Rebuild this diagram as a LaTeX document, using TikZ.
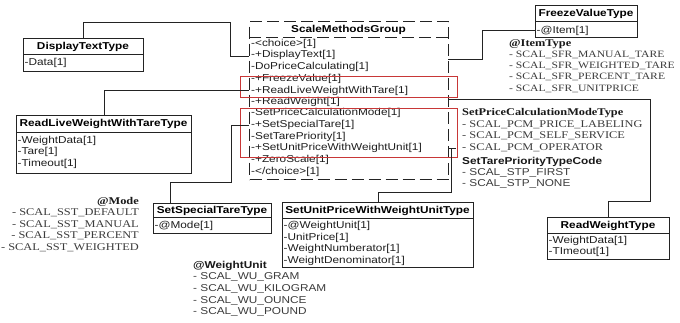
\documentclass[tikz,border=0pt]{standalone}
\usepackage{fontspec}
\setmainfont[FakeStretch=1.2]{Liberation Serif}
\setsansfont[FakeStretch=1.18]{Liberation Sans}
\definecolor{lncol}{RGB}{35,35,35}
\definecolor{redbox}{RGB}{200,55,55}
\definecolor{txtcol}{RGB}{30,30,30}
\definecolor{enumcol}{RGB}{60,60,60}
\begin{document}
\begin{tikzpicture}[x=1pt,y=-1pt,
  ln/.style={draw=lncol, line width=1pt},
  conn/.style={draw=lncol, line width=1pt},
  umlbox/.style={ln, fill=white, rectangle, inner sep=0pt, anchor=north west},
  grpbox/.style={draw=lncol, line width=1.1pt, dash pattern=on 12pt off 5pt, rectangle, inner sep=0pt, anchor=north west},
  hl/.style={draw=redbox, line width=1pt, rectangle, inner sep=0pt, anchor=north west},
  ttl/.style={font=\sffamily\bfseries\fontsize{10}{12}\selectfont, inner sep=0pt, text=black},
  row/.style={font=\sffamily\fontsize{10}{12}\selectfont, anchor=west, inner sep=0pt, text=txtcol},
  enumr/.style={font=\rmfamily\fontsize{10.3}{12}\selectfont, anchor=west, inner sep=0pt, text=enumcol},
  enumrn/.style={font=\rmfamily\fontsize{9.7}{12}\selectfont, anchor=west, inner sep=0pt, text=enumcol},
  enumrh/.style={font=\rmfamily\bfseries\fontsize{10.3}{12}\selectfont, anchor=west, inner sep=0pt, text=black!90},
  enums/.style={font=\sffamily\fontsize{10}{12}\selectfont, anchor=west, inner sep=0pt, text=enumcol},
  enumsh/.style={font=\sffamily\bfseries\fontsize{10}{12}\selectfont, anchor=west, inner sep=0pt, text=black!90},
]
\fill[white] (0,0) rectangle (680,323);
\useasboundingbox (0,0) rectangle (680,323);

% ---------- ScaleMethodsGroup ----------
\node[grpbox, minimum width=199pt, minimum height=158pt] (g) at (249,21) {};
\node[ttl] (gt) at (348.5,29.5) {ScaleMethodsGroup};
\draw[draw=lncol, line width=1.1pt, dash pattern=on 12pt off 5pt] (249,37.5) -- (448,37.5);
\node[row] (r1) at (251,43.5) {-<choice>[1]};
\node[row] (r2) at (251,55.2) {-+DisplayText[1]};
\node[row] (r3) at (251,66.8) {-DoPriceCalculating[1]};
\node[row] (r4) at (251,79) {-+FreezeValue[1]};
\node[row] (r5) at (251,90.6) {-+ReadLiveWeightWithTare[1]};
\node[row] (r6) at (251,101.8) {-+ReadWeight[1]};
\node[row] (r7) at (251,113.3) {-SetPriceCalculationMode[1]};
\node[row] (r8) at (251,125) {-+SetSpecialTare[1]};
\node[row] (r9) at (251,136.7) {-SetTarePriority[1]};
\node[row] (r10) at (251,148.3) {-+SetUnitPriceWithWeightUnit[1]};
\node[row] (r11) at (251,160.3) {-+ZeroScale[1]};
\node[row] (r12) at (251,172.3) {-</choice>[1]};

\node[hl, minimum width=217pt, minimum height=21pt] (h1) at (240,76) {};
\node[hl, minimum width=217pt, minimum height=49pt] (h2) at (240,108) {};

% ---------- DisplayTextType ----------
\node[umlbox, minimum width=120pt, minimum height=33pt] (dtt) at (23,38.5) {};
\node[ttl] (dttt) at (83,47) {DisplayTextType};
\draw[ln] (23,55) -- (143,55);
\node[row] (dtt1) at (24.5,63) {-Data[1]};

% ---------- ReadLiveWeightWithTareType ----------
\node[umlbox, minimum width=175pt, minimum height=58pt] (rlw) at (16,115) {};
\node[ttl] (rlwt) at (103.5,124) {ReadLiveWeightWithTareType};
\draw[ln] (16,133) -- (191,133);
\node[row] (rlw1) at (17.5,140.5) {-WeightData[1]};
\node[row] (rlw2) at (17.5,152) {-Tare[1]};
\node[row] (rlw3) at (17.5,163.5) {-Timeout[1]};

% ---------- FreezeValueType ----------
\node[umlbox, minimum width=102pt, minimum height=32pt] (fvt) at (535,5) {};
\node[ttl] (fvtt) at (586,13.5) {FreezeValueType};
\draw[ln] (535,22) -- (637,22);
\node[row] (fvt1) at (536.5,30.5) {-@Item[1]};

% ---------- ReadWeightType ----------
\node[umlbox, minimum width=122pt, minimum height=42pt] (rwt) at (547,217) {};
\node[ttl] (rwtt) at (608,226) {ReadWeightType};
\draw[ln] (547,234) -- (669,234);
\node[row] (rwt1) at (548.5,241) {-WeightData[1]};
\node[row] (rwt2) at (548.5,252) {-TImeout[1]};

% ---------- SetSpecialTareType ----------
\node[umlbox, minimum width=118pt, minimum height=30pt] (sst) at (153,203) {};
\node[ttl] (sstt) at (212,210.5) {SetSpecialTareType};
\draw[ln] (153,217.5) -- (271,217.5);
\node[row] (sst1) at (154.5,225.5) {-@Mode[1]};

% ---------- SetUnitPriceWithWeightUnitType ----------
\node[umlbox, minimum width=191pt, minimum height=65pt] (sup) at (282,202) {};
\node[ttl] (supt) at (377.5,210.5) {SetUnitPriceWithWeightUnitType};
\draw[ln] (282,219) -- (473,219);
\node[row] (sup1) at (283.5,226) {-@WeightUnit[1]};
\node[row] (sup2) at (283.5,237.5) {-UnitPrice[1]};
\node[row] (sup3) at (283.5,249) {-WeightNumberator[1]};
\node[row] (sup4) at (283.5,260.5) {-WeightDenominator[1]};

% ---------- enumerations ----------
\node[enumrh] (it0) at (509,44) {@ItemType};
\node[enumrn] (it1) at (509,54.8) {- SCAL\_SFR\_MANUAL\_TARE};
\node[enumrn] (it2) at (509,66.2) {- SCAL\_SFR\_WEIGHTED\_TARE};
\node[enumrn] (it3) at (509,77.4) {- SCAL\_SFR\_PERCENT\_TARE};
\node[enumrn] (it4) at (509,88.6) {- SCAL\_SFR\_UNITPRICE};

\node[enumrh] (pc0) at (462,113) {SetPriceCalculationModeType};
\node[enumr] (pc1) at (462,124.5) {- SCAL\_PCM\_PRICE\_LABELING};
\node[enumr] (pc2) at (462,136) {- SCAL\_PCM\_SELF\_SERVICE};
\node[enumr] (pc3) at (462,147.5) {- SCAL\_PCM\_OPERATOR};
\node[enumsh] (tp0) at (462,162) {SetTarePriorityTypeCode};
\node[enums] (tp1) at (462,173) {- SCAL\_STP\_FIRST};
\node[enums] (tp2) at (462,184) {- SCAL\_STP\_NONE};

\node[enumrh, anchor=east] (md0) at (139,202) {@Mode};
\node[enumr, anchor=east] (md1) at (139,213) {- SCAL\_SST\_DEFAULT};
\node[enumr, anchor=east] (md2) at (139,224.5) {- SCAL\_SST\_MANUAL};
\node[enumr, anchor=east] (md3) at (139,236) {- SCAL\_SST\_PERCENT};
\node[enumr, anchor=east] (md4) at (139,247.5) {- SCAL\_SST\_WEIGHTED};

\node[enumsh] (wu0) at (193,266) {@WeightUnit};
\node[enums] (wu1) at (193,277.5) {- SCAL\_WU\_GRAM};
\node[enums] (wu2) at (193,289) {- SCAL\_WU\_KILOGRAM};
\node[enums] (wu3) at (193,300.8) {- SCAL\_WU\_OUNCE};
\node[enums] (wu4) at (193,312.5) {- SCAL\_WU\_POUND};

% ---------- connector coordinates ----------
\coordinate (gDT) at (249,57);
\coordinate (bDT) at (230,23);
\coordinate (gRL) at (249,91);
\coordinate (gSS) at (249,126);
\coordinate (bSS) at (231,183);
\coordinate (sstT) at (170,203);
\coordinate (gFV) at (448,60);
\coordinate (bFV) at (482,31);
\coordinate (fvtL) at (535,31);
\coordinate (gRW) at (448,100);
\coordinate (bRW) at (650,202);
\coordinate (gSU) at (448,149);
\coordinate (tSU) at (456,149);
\coordinate (bSU) at (451,149);
\coordinate (cSU) at (451,193);

% ---------- connectors ----------
\draw[conn] (dtt.north) |- (bDT) |- (gDT);
\draw[conn] (rlw.north) |- (gRL);
\draw[conn] (gSS) -| (bSS) -| (sstT);
\draw[conn] (gFV) -| (bFV) -- (fvtL);
\draw[conn] (gRW) -| (bRW) -| (rwt.north);
\draw[conn] (gSU) -- (tSU);
\draw[conn] (bSU) -- (cSU) -| (sup.north);
\end{tikzpicture}
\end{document}
